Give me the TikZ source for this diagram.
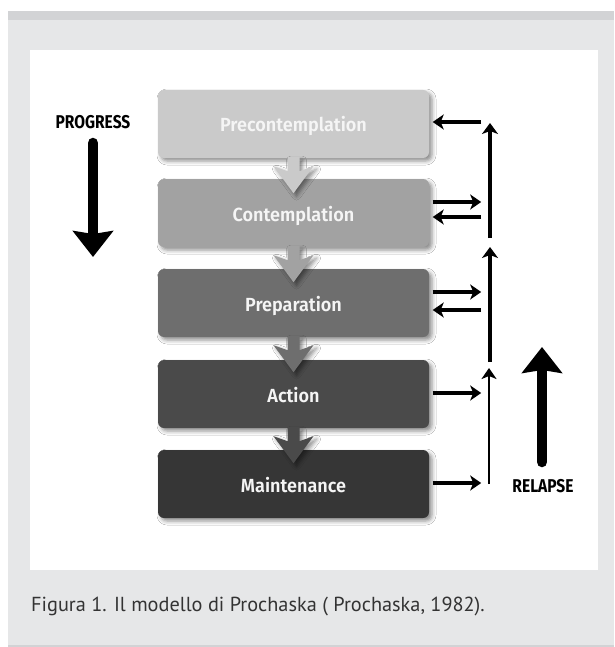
\documentclass[tikz,border=0pt]{standalone}
\usepackage{fontspec}
\setmainfont{PT Sans}
\newfontfamily\boxfont{Fira Sans SemiBold}[FakeStretch=0.95]
\newfontfamily\lblfont{Fira Sans}[FakeStretch=0.84]
\newfontfamily\capfont{PT Sans}
\usetikzlibrary{arrows.meta,shadows.blur,calc}
\definecolor{panel}{HTML}{E6E7E8}
\definecolor{band}{HTML}{D2D3D5}
\definecolor{capgray}{HTML}{333333}
\definecolor{cA}{HTML}{CACACA}
\definecolor{cB}{HTML}{A2A2A2}
\definecolor{cC}{HTML}{6E6E6E}
\definecolor{cD}{HTML}{4A4A4A}
\definecolor{cE}{HTML}{363636}
\tikzset{
  softshadow/.style={blur shadow={shadow xshift=3pt, shadow yshift=-3pt, shadow blur radius=4pt, shadow opacity=45}},
  stage/.style={draw=none, rounded corners=6pt, minimum width=271pt, minimum height=68pt, inner sep=0pt,
    text height=16pt, text depth=0pt,
    font=\boxfont\fontsize{19}{21}\selectfont, text=white!96!black, softshadow},
  harrow/.style={line width=3.8pt, -{Stealth[length=11pt,width=15pt,inset=3pt]}},
  varrow/.style={line width=3.8pt, -{Stealth[length=11pt,width=16pt,inset=3pt]}},
  varrowthin/.style={line width=2.8pt, -{Stealth[length=11pt,width=15pt,inset=3pt]}},
  bigarrow/.style={line width=10.5pt, line cap=round, -{Stealth[length=26pt,width=40pt,inset=3pt]}},
  biglabel/.style={font=\lblfont\bfseries\fontsize{18.5}{20}\selectfont, text=black, inner sep=0pt},
  pics/downarrow/.style={code={
    \fill[#1, softshadow] (-6,-1) -- (-6,13) -- (-20,8) -- (0,35) -- (20,8) -- (6,13) -- (6,-1) -- cycle;}}
}
\begin{document}
\begin{tikzpicture}[x=1pt,y=-1pt]
\useasboundingbox (0,0) rectangle (614,647);
% background panel
\fill[white] (0,0) rectangle (614,647);
\fill[panel] (8,20) rectangle (614,645);
\fill[band] (8,11) rectangle (614,20);
\fill[band] (8,645) rectangle (614,647);
\fill[white] (30,50) rectangle (598,569.5);

% stages
\node[stage, fill=cA] (pre)  at (293.5,124) {Precontemplation};
\node[stage, fill=cB] (con)  at (293.5,213) {Contemplation};
\node[stage, fill=cC] (prep) at (293.5,303) {Preparation};
\node[stage, fill=cD] (act)  at (293.5,394) {Action};
\node[stage, fill=cE] (main) at (293.5,484) {Maintenance};

% down arrows between stages
\pic at (pre.south)  {downarrow=cA};
\pic at (con.south)  {downarrow=cB};
\pic at (prep.south) {downarrow=cC};
\pic at (act.south)  {downarrow=cD};

% relapse spine
\coordinate (s1b) at (490,238);
\coordinate (s1t) at (490,123);
\coordinate (s2b) at (490,362);
\coordinate (s2t) at (490,247);
\coordinate (s3b) at (489,484);
\coordinate (s3t) at (489,368);
\draw[varrow] (s1b) -- (s1t);
\draw[varrow] (s2b) -- (s2t);
\draw[varrowthin] (s3b) -- (s3t);

% side arrows
\draw[harrow] ($(pre.east)+(52,-2)$) -- ($(pre.east)+(3.5,-2)$);
\draw[harrow] ($(con.east)+(3.5,-11)$) -- ($(con.east)+(52,-11)$);
\draw[harrow] ($(con.east)+(52,4)$) -- ($(con.east)+(3.5,4)$);
\draw[harrow] ($(prep.east)+(3.5,-11)$) -- ($(prep.east)+(52,-11)$);
\draw[harrow] ($(prep.east)+(52,7)$) -- ($(prep.east)+(3.5,7)$);
\draw[harrow] ($(act.east)+(3.5,-1)$) -- ($(act.east)+(52,-1)$);
\draw[harrow] ($(main.east)+(3.5,-1)$) -- ($(main.east)+(52,-1)$);

% progress / relapse
\node[biglabel] (prog) at (93,122) {PROGRESS};
\coordinate (pgs) at (93,143);
\coordinate (pge) at (93,257);
\draw[bigarrow] (pgs) -- (pge);
\node[biglabel] (rel) at (543,486) {RELAPSE};
\coordinate (rls) at (542,462);
\coordinate (rle) at (542,347);
\draw[bigarrow] (rls) -- (rle);

% caption
\node[anchor=base west, inner sep=0pt, text=capgray, font=\capfont\fontsize{20.3}{24}\selectfont] (cap) at (31,611)
  {Figura 1. Il modello di Prochaska ( Prochaska, 1982).};
\end{tikzpicture}
\end{document}
